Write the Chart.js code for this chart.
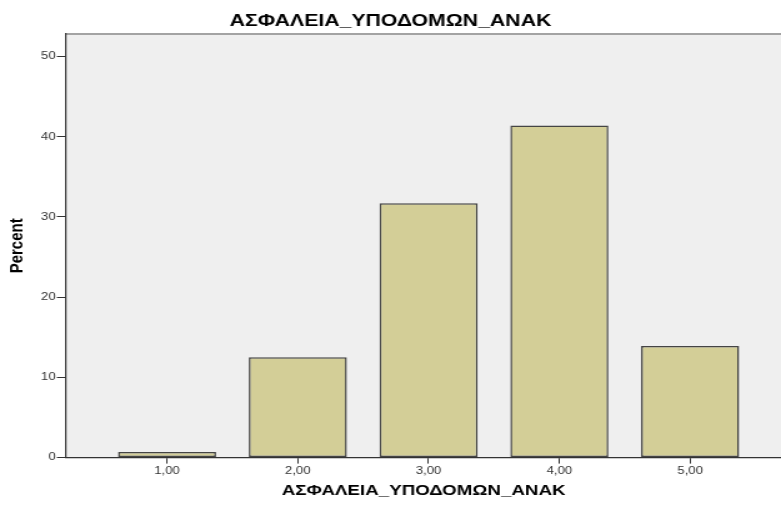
<!DOCTYPE html>
<html>
<head>
<meta charset="utf-8">
<script src="https://cdn.jsdelivr.net/npm/chart.js@4/dist/chart.umd.min.js"></script>
<style>
  body { margin: 0; background: #fff; }
</style>
</head>
<body>
<!-- the reference image is stretched sideways, so the canvas is drawn narrower and scaled up -->
<canvas id="grafica" width="625" height="509" style="display:block;width:781px;height:509px"></canvas>
<script>
// datos
var categorias = [1, 2, 3, 4, 5]
var porcentajes = [0.7, 12.5, 31.7, 41.4, 13.9]
var ticksY = [0, 10, 20, 30, 40, 50]
var titulo = "ΑΣΦΑΛΕΙΑ_ΥΠΟΔΟΜΩΝ_ΑΝΑΚ"
var tituloY = "Percent"

var puntos = categorias.map(function (c, i) {
    return { x: c, y: porcentajes[i] }
})

// fondo gris del area del grafico + linea de arriba
var fondoArea = {
    id: 'fondoArea',
    beforeDraw: function (chart) {
        var a = chart.chartArea
        var ctx = chart.ctx
        ctx.save()
        ctx.fillStyle = '#efefef'
        ctx.fillRect(a.left, a.top, a.right - a.left, a.bottom - a.top)
        ctx.strokeStyle = '#a3a3a3'
        ctx.lineWidth = 2
        ctx.beginPath()
        ctx.moveTo(a.left, a.top)
        ctx.lineTo(a.right, a.top)
        ctx.stroke()
        ctx.restore()
    }
}

new Chart(document.getElementById('grafica'), {
    type: 'bar',
    data: {
        datasets: [{
            data: puntos,
            backgroundColor: '#d3ce97',
            borderColor: '#444',
            borderWidth: 1.5,
            borderSkipped: false,
            barPercentage: 0.75,
            categoryPercentage: 1
        }]
    },
    options: {
        responsive: false,
        animation: false,
        devicePixelRatio: 1,
        layout: { padding: 0 },
        plugins: {
            legend: { display: false },
            tooltip: { enabled: false },
            title: {
                display: true,
                text: titulo,
                color: '#000',
                font: { family: 'Liberation Sans, Arial, sans-serif', size: 17, weight: 'bold' },
                padding: { top: 10.8, bottom: 2.8 }
            }
        },
        scales: {
            x: {
                type: 'linear',
                offset: false,
                min: 0.229,
                max: 5.695,
                afterBuildTicks: function (scale) {
                    scale.ticks = categorias.map(function (c) { return { value: c } })
                },
                ticks: {
                    color: '#333',
                    font: { family: 'Liberation Sans, Arial, sans-serif', size: 10.5 },
                    padding: 1.4,
                    maxRotation: 0,
                    callback: function (v) { return v.toFixed(2).replace('.', ',') }
                },
                grid: {
                    offset: false,
                    drawOnChartArea: false,
                    drawTicks: true,
                    tickLength: 6,
                    tickColor: '#333'
                },
                border: { color: '#333', width: 1.2 },
                title: {
                    display: true,
                    text: titulo,
                    color: '#000',
                    font: { family: 'Liberation Sans, Arial, sans-serif', size: 15, weight: 'bold' },
                    padding: { top: 3, bottom: 9 }
                }
            },
            y: {
                min: 0,
                max: 52.8,
                afterBuildTicks: function (scale) {
                    scale.ticks = ticksY.map(function (v) { return { value: v } })
                },
                afterFit: function (scale) { scale.width = 53 },
                ticks: {
                    color: '#333',
                    font: { family: 'Liberation Sans, Arial, sans-serif', size: 10.5 },
                    padding: 1
                },
                grid: {
                    drawOnChartArea: false,
                    drawTicks: true,
                    tickLength: 7.5,
                    tickColor: '#333'
                },
                border: { color: '#333', width: 1.2 },
                title: {
                    display: true,
                    text: tituloY,
                    color: '#000',
                    font: { family: 'Liberation Sans, Arial, sans-serif', size: 15, weight: 'bold' },
                    padding: { top: 4.6, bottom: 9.7 }
                }
            }
        }
    },
    plugins: [fondoArea]
})
</script>
</body>
</html>
